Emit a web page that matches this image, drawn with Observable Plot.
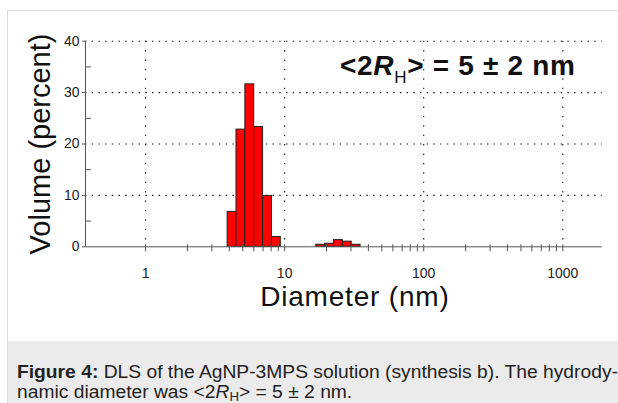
<!DOCTYPE html>
<html><head><meta charset="utf-8">
<script src="https://cdn.jsdelivr.net/npm/d3@7"></script>
<script src="https://cdn.jsdelivr.net/npm/@observablehq/plot@0.6"></script>
<style>
html,body{margin:0;padding:0;background:#fff;width:618px;height:403px;overflow:hidden;position:relative;}
#frame{position:absolute;left:7px;top:10px;width:700px;height:500px;border-top:1px solid #dcdcdc;border-left:1px solid #dcdcdc;}
#chart{position:absolute;left:8px;top:11px;}
#caption{position:absolute;left:8px;top:341px;width:620px;height:70px;background:#ebebeb;}
#captext{position:absolute;left:9px;top:21px;font-family:"Liberation Sans",Arial,sans-serif;font-size:17.5px;color:#222;line-height:20px;white-space:nowrap;transform:scaleX(1.1);transform-origin:0 0;}
#captext sub{font-size:12px;vertical-align:-3px;line-height:0;}
</style>
</head><body>
<div id="frame"></div>
<div id="chart"></div>
<div id="caption"><div id="captext"><b>Figure 4:</b> DLS of the AgNP-3MPS solution (synthesis b). The hydrody-<br>namic diameter was &lt;2<i>R</i><sub>H</sub>&gt; = 5 ± 2 nm.</div></div>
<script>
// ---- data ----
const sizes = [4.187, 4.849, 5.615, 6.503, 7.531, 8.721, 18.17, 21.04, 24.36, 28.21, 32.67];
const volumes = [6.8, 22.8, 31.6, 23.3, 9.9, 1.9, 0.4, 0.6, 1.3, 1.0, 0.4];
const xTicks = [1, 10, 100, 1000];
const xMinorTicks = [2, 3, 4, 5, 6, 7, 8, 9, 20, 30, 40, 50, 60, 70, 80, 90, 200, 300, 400, 500, 600, 700, 800, 900];
const yTicks = [0, 10, 20, 30, 40];
const yMinorTicks = [5, 15, 25, 35];
const xDomain = [0.37, 1920];
const yDomain = [0, 40];
const xLabel = "Diameter (nm)";
const yLabel = "Volume (percent)";

// bins (geometric half-width around each size class)
const half = Math.sqrt(sizes[1] / sizes[0]);
const bins = sizes.map((s, i) => ({x1: s / half, x2: s * half, vol: volumes[i]}));

const NARROW = '"Liberation Sans Narrow","Arial Narrow","Liberation Sans",Arial,sans-serif';
const SANS = '"Liberation Sans",Arial,sans-serif';
const AX = "#555";

const plot = Plot.plot({
  width: 610, height: 330,
  marginTop: 29.7, marginBottom: 94.7, marginLeft: 77, marginRight: 16.3,
  style: {fontFamily: NARROW, fontSize: "14px", color: "#222", background: "transparent", overflow: "visible"},
  x: {type: "log", domain: xDomain},
  y: {domain: yDomain},
  marks: [
    Plot.gridY(yTicks.filter(d => d > 0), {stroke: "#111", strokeOpacity: 1, strokeWidth: 1.1, strokeDasharray: "1.4,5.3"}),
    Plot.gridX(xTicks, {stroke: "#111", strokeOpacity: 1, strokeWidth: 1.1, strokeDasharray: "1.4,8"}),
    Plot.rectY(bins, {x1: "x1", x2: "x2", y: "vol", fill: "#ff0000", stroke: "#222", strokeWidth: 1}),
    Plot.ruleY([0], {stroke: AX}),
    Plot.ruleX([xDomain[0]], {y1: yDomain[0], y2: yDomain[1], stroke: AX}),
    Plot.ruleX(xTicks.concat(xMinorTicks), {y1: 0, y2: 0, insetTop: -2, insetBottom: -5, stroke: AX}),
    Plot.ruleY(yMinorTicks, {x1: xDomain[0], x2: xDomain[0], insetRight: -6, stroke: AX}),
    Plot.ruleY(yTicks, {x1: xDomain[0], x2: xDomain[0], insetLeft: -3, stroke: AX}),
    Plot.axisX(xTicks, {tickSize: 0, tickPadding: 21, tickFormat: d => String(d), label: null, fontSize: 14, fill: "#222"}),
    Plot.axisY(yTicks, {tickSize: 0, tickPadding: 6, label: null, fontSize: 14, fill: "#222"}),
    Plot.text([xLabel], {text: d => d, frameAnchor: "bottom", textAnchor: "middle", dx: 11, dy: 59, fontSize: 28, fontFamily: SANS, fill: "#111"}),
    Plot.text([yLabel], {text: d => d, frameAnchor: "left", textAnchor: "middle", rotate: -90, dx: -45, fontSize: 29, fontFamily: SANS, fill: "#111"})
  ]
});
document.getElementById("chart").appendChild(plot);

const svg = d3.select(plot);
svg.selectAll("text").filter(function () { return this.textContent === xLabel; }).style("letter-spacing", "0.8px");

// annotation <2R_H> = 5 ± 2 nm
const annX = 25.2, annY = 33.3;
const sx = plot.scale("x"), sy = plot.scale("y");
const ann = svg.append("text")
  .attr("x", sx.apply(annX)).attr("y", sy.apply(annY))
  .attr("text-anchor", "start")
  .attr("font-family", SANS).attr("font-size", 28).attr("font-weight", "bold").attr("fill", "#111")
  .style("letter-spacing", "0.7px");
ann.append("tspan").text("<2");
ann.append("tspan").attr("font-style", "italic").text("R");
ann.append("tspan").attr("font-size", 17).attr("font-weight", "normal").attr("dy", 8).text("H");
ann.append("tspan").attr("dy", -8).text("> = 5 ± 2 nm");
</script>
</body></html>
